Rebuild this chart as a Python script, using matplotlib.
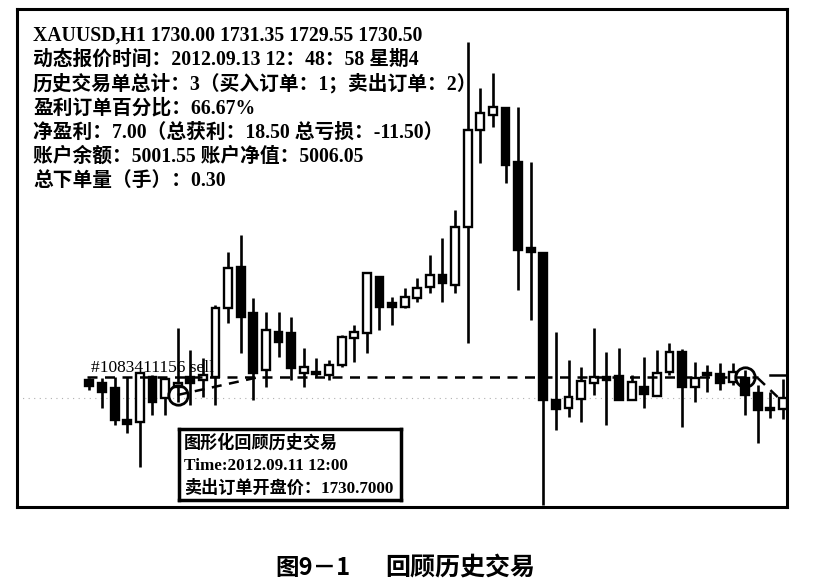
import matplotlib
matplotlib.use("Agg")
import matplotlib.pyplot as plt
from matplotlib.patches import Rectangle

# hourly XAUUSD bars (oldest -> newest)
opens = [1731.31, 1731.18, 1730.95, 1729.51, 1729.42, 1731.45, 1730.50, 1731.00,
         1731.45, 1731.31, 1731.45, 1734.55, 1736.40, 1734.33, 1731.76, 1733.47,
         1733.43, 1731.63, 1731.67, 1731.54, 1731.99, 1733.20, 1733.43, 1735.95,
         1734.78, 1734.60, 1735.00, 1735.50, 1736.04, 1735.59, 1738.20, 1742.56,
         1743.24, 1743.55, 1741.12, 1737.25, 1737.03, 1730.41, 1730.05, 1730.46,
         1731.18, 1731.45, 1731.49, 1730.41, 1731.00, 1730.59, 1731.67, 1732.57,
         1731.00, 1731.63, 1731.58, 1731.22, 1731.40, 1730.73, 1730.05, 1730.00]
highs = [1731.40, 1731.40, 1731.45, 1731.45, 1731.67, 1731.54, 1731.40, 1733.65,
         1732.66, 1732.30, 1734.69, 1737.07, 1737.84, 1735.00, 1734.37, 1734.37,
         1734.15, 1732.75, 1732.30, 1732.21, 1733.34, 1733.79, 1736.13, 1735.95,
         1735.05, 1735.45, 1735.90, 1736.94, 1737.70, 1738.96, 1746.52, 1744.45,
         1745.13, 1743.60, 1743.60, 1741.12, 1737.03, 1733.47, 1732.21, 1731.90,
         1733.65, 1732.57, 1732.75, 1731.54, 1732.35, 1732.66, 1732.98, 1732.71,
         1732.12, 1731.99, 1732.08, 1732.08, 1731.76, 1731.09, 1730.77, 1731.35]
lows = [1730.86, 1730.05, 1729.29, 1728.93, 1727.40, 1729.74, 1729.74, 1730.32,
        1730.19, 1730.55, 1730.19, 1733.88, 1732.53, 1730.41, 1731.00, 1732.35,
        1731.31, 1731.00, 1731.45, 1731.31, 1731.90, 1732.12, 1732.53, 1733.56,
        1733.79, 1734.55, 1734.82, 1735.23, 1734.82, 1735.23, 1732.98, 1741.08,
        1742.70, 1740.18, 1735.36, 1734.01, 1725.69, 1729.06, 1729.65, 1729.42,
        1730.64, 1729.29, 1730.41, 1730.41, 1730.05, 1730.59, 1731.54, 1729.20,
        1730.32, 1730.77, 1730.86, 1731.09, 1729.74, 1728.48, 1729.60, 1729.55]
closes = [1731.04, 1730.77, 1729.51, 1729.33, 1731.63, 1730.32, 1731.36, 1731.18,
          1731.18, 1731.54, 1734.55, 1736.35, 1734.15, 1731.63, 1733.56, 1733.02,
          1731.85, 1731.90, 1731.58, 1731.99, 1733.25, 1733.47, 1736.13, 1734.60,
          1734.60, 1735.05, 1735.45, 1736.04, 1735.68, 1738.20, 1742.56, 1743.33,
          1743.60, 1740.99, 1737.16, 1737.07, 1730.41, 1730.01, 1730.55, 1731.27,
          1731.45, 1731.31, 1730.41, 1731.22, 1730.68, 1731.63, 1732.57, 1731.00,
          1731.40, 1731.54, 1731.18, 1731.67, 1730.64, 1729.96, 1729.96, 1730.50]

info_lines = ["XAUUSD,H1 1730.00 1731.35 1729.55 1730.50",
              "动态报价时间：2012.09.13 12：48：58 星期4",
              "历史交易单总计：3（买入订单：1；卖出订单：2）",
              "盈利订单百分比：66.67%",
              "净盈利：7.00（总获利：18.50 总亏损：-11.50）",
              "账户余额：5001.55 账户净值：5006.05",
              "总下单量（手）：0.30"]
box_lines = ["图形化回顾历史交易", "Time:2012.09.11 12:00", "卖出订单开盘价：1730.7000"]
trade_label = "#1083411156 sell"
sell_level = 1731.45
bid_level = 1730.50
trade_marks = [(7, 1730.64), (52, 1731.45)]
caption_num = "图9－1"
caption_title = "回顾历史交易"

W, H = 813, 585
fig = plt.figure(figsize=(W / 100, H / 100), dpi=100)
ax = fig.add_axes([17 / W, 1 - 507 / H, 770 / W, 498 / H])
ax.set_xlim(-5.74, 55.32)
ax.set_ylim(1725.6, 1748.0)
ax.set_xticks([])
ax.set_yticks([])
for s in ax.spines.values():
    s.set_linewidth(2.2)

bw = 0.62
for i in range(len(opens)):
    o, h, l, c = opens[i], highs[i], lows[i], closes[i]
    ax.plot([i, i], [l, h], color='k', lw=1.9, zorder=2, solid_capstyle='butt')
    lo, hi = min(o, c), max(o, c)
    if hi - lo < 0.12:
        lo, hi = (lo + hi) / 2 - 0.06, (lo + hi) / 2 + 0.06
    fc = 'white' if c >= o else 'black'
    ax.add_patch(Rectangle((i - bw / 2, lo), bw, hi - lo, facecolor=fc,
                           edgecolor='k', lw=1.7, zorder=3))

# bid line and trade lines
ax.axhline(bid_level, color='#b0b0b0', lw=0.8, ls=(0, (1, 4)), zorder=1)
ax.plot([-0.2, 53], [sell_level, sell_level], color='k', lw=1.8, ls=(0, (4, 3)), zorder=4)
ax.plot([trade_marks[0][0], 13.5], [trade_marks[0][1], sell_level], color='k', lw=1.8,
        ls=(0, (4, 3)), zorder=4)
ax.plot([53, 55], [1731.40, 1730.32], color='k', lw=1.8, ls=(0, (4, 3)), zorder=4)
ax.plot([54, 55.4], [1731.54, 1731.54], color='k', lw=1.8, zorder=4)
for xi, yi in trade_marks:
    ax.plot(xi, yi, 'o', ms=14, mfc='none', mec='k', mew=2, zorder=5)

serif_cjk = ['Liberation Serif', 'Noto Sans CJK SC']

ax.text(0.1, 1731.85, trade_label, fontsize=12.5, fontfamily=serif_cjk,
        va='center', ha='left', zorder=6)

for k, line in enumerate(info_lines):
    fig.text(33 / W, 1 - (36 + k * 24.1) / H, line, fontsize=14.2, fontweight='bold',
             family=serif_cjk, va='center', ha='left')

# info box with the order details
bx = fig.add_axes([179 / W, 1 - 500 / H, 222 / W, 71 / H])
bx.set_xticks([])
bx.set_yticks([])
bx.patch.set_facecolor('white')
for s in bx.spines.values():
    s.set_linewidth(2.5)
for k, line in enumerate(box_lines):
    fig.text(184 / W, 1 - (443 + k * 22.5) / H, line, fontsize=12.3, fontweight='bold',
             family=serif_cjk, va='center', ha='left')

fig.text(275 / W, 1 - 568 / H, caption_num, fontsize=17, fontweight='heavy',
         family=['Noto Sans CJK SC'], va='center', ha='left')
fig.text(385 / W, 1 - 568 / H, caption_title, fontsize=18, fontweight='heavy',
         family=['Noto Sans CJK SC'], va='center', ha='left')

fig.savefig('out.png', dpi=100)
